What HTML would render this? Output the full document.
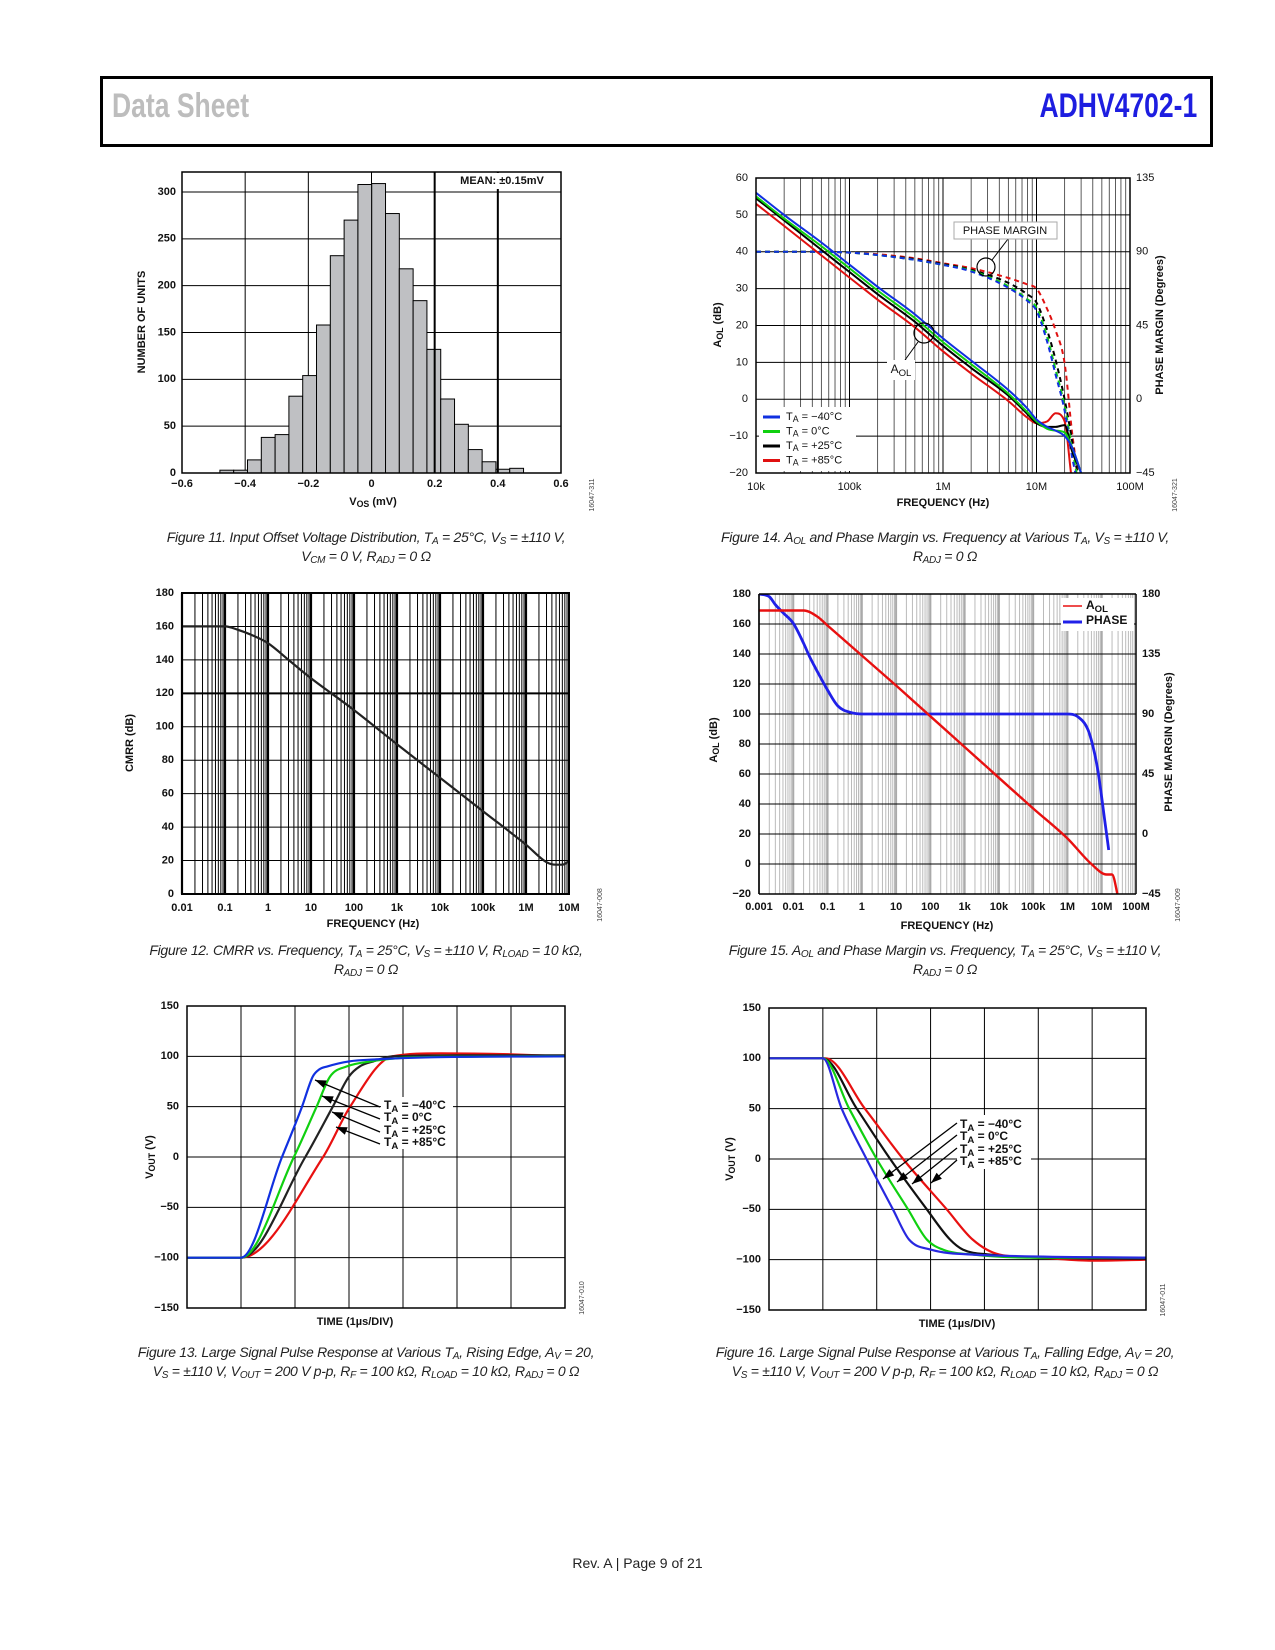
<!DOCTYPE html>
<html><head><meta charset="utf-8">
<style>
html,body{margin:0;padding:0;background:#fff;}
#page{position:relative;width:1275px;height:1650px;overflow:hidden;background:#fff;font-family:"Liberation Sans",sans-serif;}
.hdr{position:absolute;left:100px;top:76px;width:1107px;height:65px;border:3px solid #000;border-right-width:3px;}
.t1{position:absolute;left:112px;top:87px;font:bold 34px "Liberation Sans Narrow","Liberation Sans",sans-serif;color:#bdbdbd;transform:scaleX(0.78);transform-origin:left;}
.t2{position:absolute;right:78px;top:87px;font:bold 34px "Liberation Sans Narrow","Liberation Sans",sans-serif;color:#1d1de0;transform:scaleX(0.78);transform-origin:right;}
.cap{position:absolute;width:560px;text-align:center;font:italic 14px "Liberation Sans",sans-serif;letter-spacing:-0.3px;line-height:19px;color:#222;}
.cap sub{font-size:10px;vertical-align:-2px;line-height:0;}
.foot{position:absolute;left:0;width:1275px;top:1555px;text-align:center;font:14px "Liberation Sans",sans-serif;color:#222;}
svg{position:absolute;left:0;top:0;}
</style></head><body>
<div id="page">
<div class="hdr"></div>
<div class="t1">Data Sheet</div>
<div class="t2">ADHV4702-1</div>

<div class="cap" style="left:86px;top:528px">Figure 11. Input Offset Voltage Distribution, T<sub>A</sub> = 25°C, V<sub>S</sub> = ±110 V,<br>V<sub>CM</sub> = 0 V, R<sub>ADJ</sub> = 0 Ω</div>
<div class="cap" style="left:665px;top:528px">Figure 14. A<sub>OL</sub> and Phase Margin vs. Frequency at Various T<sub>A</sub>, V<sub>S</sub> = ±110 V,<br>R<sub>ADJ</sub> = 0 Ω</div>
<div class="cap" style="left:86px;top:941px">Figure 12. CMRR vs. Frequency, T<sub>A</sub> = 25°C, V<sub>S</sub> = ±110 V, R<sub>LOAD</sub> = 10 kΩ,<br>R<sub>ADJ</sub> = 0 Ω</div>
<div class="cap" style="left:665px;top:941px">Figure 15. A<sub>OL</sub> and Phase Margin vs. Frequency, T<sub>A</sub> = 25°C, V<sub>S</sub> = ±110 V,<br>R<sub>ADJ</sub> = 0 Ω</div>
<div class="cap" style="left:56px;top:1343px;width:620px">Figure 13. Large Signal Pulse Response at Various T<sub>A</sub>, Rising Edge, A<sub>V</sub> = 20,<br>V<sub>S</sub> = ±110 V, V<sub>OUT</sub> = 200 V p-p, R<sub>F</sub> = 100 kΩ, R<sub>LOAD</sub> = 10 kΩ, R<sub>ADJ</sub> = 0 Ω</div>
<div class="cap" style="left:635px;top:1343px;width:620px">Figure 16. Large Signal Pulse Response at Various T<sub>A</sub>, Falling Edge, A<sub>V</sub> = 20,<br>V<sub>S</sub> = ±110 V, V<sub>OUT</sub> = 200 V p-p, R<sub>F</sub> = 100 kΩ, R<sub>LOAD</sub> = 10 kΩ, R<sub>ADJ</sub> = 0 Ω</div>
<div class="foot">Rev. A | Page 9 of 21</div>

<svg id="sv" width="1275" height="1650" viewBox="0 0 1275 1650"></svg>
</div>
<script>
// ---- Figure 11 data ----
const histCounts = [3,3,14,38,41,82,104,158,232,270,308,309,277,218,184,132,79,52,25,12,4,5];
const histBinStart = -0.48;
const histBinWidth = 0.0437;
const histXTicks = [-0.6,-0.4,-0.2,0,0.2,0.4,0.6];
const histXTickLabels = ["\u22120.6","\u22120.4","\u22120.2","0","0.2","0.4","0.6"];
const histYTicks = [0,50,100,150,200,250,300];

// ---- Figure 14 data ----
const f14 = [1e4,2e4,5e4,1e5,2e5,5e5,1e6,2e6,5e6,8e6,1e7,1.3e7,1.6e7,2e7,2.4e7,3e7];
const aolM40 = [56,50,42.5,36.5,30.5,23,16.5,10.5,2.5,-2.5,-5.5,-7.5,-8.5,-10,-13,-20];
const aol0 = [55,49,41.5,35.5,29.5,22,15.5,9.5,1.5,-3.5,-6,-8,-8.5,-9,-13,-20];
const aol25 = [54.5,48.5,40.5,34.5,28.5,21,14.5,8.5,1,-4,-6.5,-7.5,-7.5,-7,-14,-20];
const aol85 = [53,47,39,33,27,19.5,13,7,-0.5,-5,-6.5,-6,-3.8,-6,-22,-30];
const pmM40 = [90,90,90,89.5,88,85,82,78,68,60,54,35,15,-7,-35,-60];
const pm0 = [90,90,90,89.5,88,85,82,78.5,69,61,56,38,18,-4,-30,-60];
const pm25 = [90,90,90,89.5,88,85.5,82.5,79,71,64,59,42,24,0,-25,-60];
const pm85 = [90,90,90,89.5,88.5,86,83,80,74,70,67.5,55,42,22,-20,-60];
const f14TickLabels = ["10k","100k","1M","10M","100M"];
const f14YTicks = [-20,-10,0,10,20,30,40,50,60];
const f14PTicks = [-45,0,45,90,135];

// ---- Figure 12 data ----
const f12 = [0.01,0.1,0.2,0.5,1,3,10,100,1e3,1e4,1e5,1e6,3e6,5e6,7e6,1e7];
const cmrr = [160,160,158,154,150,140,129,110,89.5,69.5,49.5,29.5,19,17.5,17.5,19.5];
const f12TickLabels = ["0.01","0.1","1","10","100","1k","10k","100k","1M","10M"];
const f12YTicks = [0,20,40,60,80,100,120,140,160,180];

// ---- Figure 15 data ----
const f15Aol = [0.001,0.02,0.05,0.1,1,10,100,1e3,1e4,1e5,1e6,5e6,1.4e7,2e7,3e7];
const aol15 = [169,169,165,159,139,119,98.5,78,57.5,37,17,0,-7,-7,-22];
const f15Ph = [0.001,0.002,0.003,0.005,0.01,0.02,0.03,0.05,0.1,0.2,0.5,1,1e6,2e6,4e6,6e6,8e6,1.2e7,1.6e7];
const ph15 = [180,178,172,166,158,143,133,122,108,96,91,90,90,88,78,62,45,12,-12];
const f15TickLabels = ["0.001","0.01","0.1","1","10","100","1k","10k","100k","1M","10M","100M"];
const f15YTicks = [-20,0,20,40,60,80,100,120,140,160,180];
const f15PTicks = [-45,0,45,90,135,180];

// ---- Figure 13 data ----
const tRiseM40 = [0,1,1.76,2.13,2.33,2.45,2.6,3.0,3.5,4.5,7];
const vRiseM40 = [-100,-100,0,50,80,87,90,95,97,99,100];
const tRise0 = [0,1,1.98,2.4,2.65,2.96,3.4,4.2,7];
const vRise0 = [-100,-100,0,50,80,90,95,99,100];
const tRise25 = [0,1,2.19,2.7,3.0,3.2,3.45,3.8,5,7];
const vRise25 = [-100,-100,0,50,80,90,95,100,101,101];
const tRise85 = [0,1,2.52,3.02,3.8,4.7,6,7];
const vRise85 = [-100,-100,0,50,100,103,102,100];
// ---- Figure 16 data ----
const tFallM40 = [0,1,1.35,1.81,2.3,2.6,3.0,3.8,7];
const vFallM40 = [100,100,50,0,-50,-80,-90,-95,-98];
const tFall0 = [0,1,1.49,2.0,2.58,2.93,3.23,3.8,5,7];
const vFall0 = [100,100,50,0,-50,-80,-90,-95,-98,-98];
const tFall25 = [0,1,1.63,2.25,2.93,3.36,3.6,4.1,5,7];
const vFall25 = [100,100,50,0,-50,-80,-90,-95,-98,-99];
const tFall85 = [0,1.05,1.78,2.49,3.3,3.78,4.28,5,6,7];
const vFall85 = [100,100,50,0,-50,-80,-95,-98,-101,-100];
const vTicks = [-150,-100,-50,0,50,100,150];
const vTickLabels = ["\u2212150","\u2212100","\u221250","0","50","100","150"];

const NS = "http://www.w3.org/2000/svg";
const sv = document.getElementById('sv');
function mk(tag, attrs, name, parent) {
  const el = document.createElementNS(NS, tag);
  for (const k in attrs) el.setAttribute(k, attrs[k]);
  
  
  (parent || sv).appendChild(el);
  return el;
}
function ln(x1,y1,x2,y2,c,w,name,p){return mk('line',{x1:x1,y1:y1,x2:x2,y2:y2,stroke:c,'stroke-width':w},name,p);}
function tx(x,y,s,opt,name,p){
  opt=opt||{};
  const el=mk('text',{x:x,y:y,'font-family':'Liberation Sans, sans-serif','font-size':opt.fs||11,'font-weight':opt.fw||'bold','text-anchor':opt.a||'middle',fill:opt.c||'#111','dominant-baseline':'middle'},name,p);
  if(opt.rot) el.setAttribute('transform','rotate('+opt.rot+' '+x+' '+y+')');
  el.textContent=s; return el;
}
function txSub(x,y,main,sub,rest,opt,name){
  opt=opt||{};
  const el=mk('text',{x:x,y:y,'font-family':'Liberation Sans, sans-serif','font-size':opt.fs||11,'font-weight':opt.fw||'bold','text-anchor':opt.a||'middle',fill:'#111','dominant-baseline':'middle'},name);
  if(opt.rot) el.setAttribute('transform','rotate('+opt.rot+' '+x+' '+y+')');
  const a=document.createElementNS(NS,'tspan'); a.textContent=main; el.appendChild(a);
  const b=document.createElementNS(NS,'tspan'); b.setAttribute('dy','3'); b.setAttribute('font-size',(opt.fs||11)*0.8); b.textContent=sub; el.appendChild(b);
  const c=document.createElementNS(NS,'tspan'); c.setAttribute('dy','-3'); c.textContent=rest; el.appendChild(c);
  return el;
}
function lin(d0,d1,p0,p1){return v=>p0+(v-d0)*(p1-p0)/(d1-d0);}
function logS(f0,f1,p0,p1){const a=Math.log10(f0),b=Math.log10(f1);return v=>p0+(Math.log10(v)-a)*(p1-p0)/(b-a);}
let clipId=0;
function clip(x0,y0,x1,y1){const id='c'+(clipId++);const cp=mk('clipPath',{id:id},'clip-region');mk('rect',{x:x0,y:y0,width:x1-x0,height:y1-y0},'clip-rect',cp);return 'url(#'+id+')';}
// monotone cubic (Fritsch-Carlson) in pixel space
function smoothD(px,py){
  const n=px.length; if(n<3){let d='';for(let i=0;i<n;i++)d+=(i?'L':'M')+px[i]+' '+py[i];return d;}
  const dx=[],m=[],t=new Array(n);
  for(let i=0;i<n-1;i++){dx[i]=px[i+1]-px[i];m[i]=(py[i+1]-py[i])/dx[i];}
  t[0]=m[0];t[n-1]=m[n-2];
  for(let i=1;i<n-1;i++){t[i]=(m[i-1]*m[i]<=0)?0:(m[i-1]+m[i])/2;}
  for(let i=0;i<n-1;i++){ if(m[i]===0){t[i]=0;t[i+1]=0;continue;}
    const a=t[i]/m[i],b=t[i+1]/m[i],s=a*a+b*b; if(s>9){const k=3/Math.sqrt(s);t[i]=k*a*m[i];t[i+1]=k*b*m[i];}}
  let d='M'+px[0].toFixed(1)+' '+py[0].toFixed(1);
  for(let i=0;i<n-1;i++){const h=dx[i]/3;
    d+='C'+(px[i]+h).toFixed(1)+' '+(py[i]+t[i]*h).toFixed(1)+' '+(px[i+1]-h).toFixed(1)+' '+(py[i+1]-t[i+1]*h).toFixed(1)+' '+px[i+1].toFixed(1)+' '+py[i+1].toFixed(1);}
  return d;
}
function path(xs,ys,sx,sy,c,w,name,dash,cl){
  const d=smoothD(xs.map(sx),ys.map(sy));
  const a={d:d,fill:'none',stroke:c,'stroke-width':w,'stroke-linejoin':'round'};
  if(dash)a['stroke-dasharray']=dash; if(cl)a['clip-path']=cl;
  return mk('path',a,name);
}
function logGrid(f0,f1,x,y0,y1,minC,minW,majC,majW,name){
  for(let e=Math.round(Math.log10(f0));e<Math.round(Math.log10(f1));e++){
    for(let m=1;m<=9;m++){const v=m*Math.pow(10,e);ln(x(v),y0,x(v),y1,m==1?majC:minC,m==1?majW:minW,name);}
  }
}
function arrow(x1,y1,x2,y2,name){
  ln(x1,y1,x2,y2,'#000',1.3,name);
  const a=Math.atan2(y2-y1,x2-x1),L=11,W=4;
  const bx=x2-L*Math.cos(a),by=y2-L*Math.sin(a);
  mk('polygon',{points:x2+','+y2+' '+(bx-W*Math.sin(a))+','+(by+W*Math.cos(a))+' '+(bx+W*Math.sin(a))+','+(by-W*Math.cos(a)),fill:'#000'},name+'-head');
}
function code(x,y,s){tx(x,y,s,{fs:7,fw:'normal',rot:-90,c:'#444'},'figure-code');}

// ================= Figure 11 =================
(function(){
  const X0=182,X1=561,Y0=172,Y1=473;
  const sx=lin(-0.6,0.6,X0,X1), sy=lin(0,300,Y1,192);
  histYTicks.forEach(v=>{ if(v>0) ln(X0,sy(v),X1,sy(v),'#000',1,'hist-y-gridline'); tx(X0-6,sy(v),String(v),{a:'end'},'hist-y-tick-label');});
  histXTicks.forEach((v,i)=>{ if(i>0&&i<histXTicks.length-1&&v<0.1) ln(sx(v),Y0,sx(v),Y1,'#000',1,'hist-x-gridline'); tx(sx(v),Y1+11,histXTickLabels[i],{},'hist-x-tick-label');});
  histCounts.forEach((c,i)=>{
    const lo=histBinStart+i*histBinWidth;
    mk('rect',{x:sx(lo),y:sy(c),width:sx(lo+histBinWidth)-sx(lo),height:Y1-sy(c),fill:'#bfc0c3',stroke:'#000','stroke-width':1},'histogram-bar');
  });
  [0.2,0.4].forEach(v=>ln(sx(v),Y0,sx(v),Y1,'#000',2,'hist-x-gridline'));
  mk('rect',{x:X0,y:Y0,width:X1-X0,height:Y1-Y0,fill:'none',stroke:'#000','stroke-width':1.5},'hist-plot-frame');
  mk('rect',{x:446,y:173,width:113,height:16,fill:'#fff'},'mean-label-bg');
  tx(502,181,'MEAN: \u00b10.15mV',{},'mean-label');
  txSub(373,502,'V','OS',' (mV)',{},'hist-x-axis-title');
  tx(142,322,'NUMBER OF UNITS',{rot:-90},'hist-y-axis-title');
  code(592,495,'16047-311');
})();

// ================= Figure 14 =================
(function(){
  const X0=756,X1=1130,Y0=178,Y1=473;
  const sx=logS(1e4,1e8,X0,X1), sy=lin(-20,60,Y1,Y0), sp=lin(-45,135,Y1,Y0);
  logGrid(1e4,1e8,sx,Y0,Y1,'#333',0.8,'#000',1,'aol14-x-gridline');
  f14YTicks.forEach(v=>{ln(X0,sy(v),X1,sy(v),'#000',1,'aol14-y-gridline');tx(X0-8,sy(v),v<0?'\u2212'+(-v):String(v),{a:'end',fw:'normal'},'aol14-y-tick-label');});
  f14PTicks.forEach(v=>tx(X1+6,sp(v),v<0?'\u2212'+(-v):String(v),{a:'start',fw:'normal'},'phase14-y-tick-label'));
  f14TickLabels.forEach((s,i)=>tx(sx(1e4*Math.pow(10,i)),487,s,{fw:'normal'},'aol14-x-tick-label'));
  const cl=clip(X0,Y0,X1,Y1);
  path(f14,pm85,sx,sp,'#e01010',2,'phase-85c-line','5,4',cl);
  path(f14,pm25,sx,sp,'#000',2,'phase-25c-line','5,4',cl);
  path(f14,pm0,sx,sp,'#10d010',2,'phase-0c-line','5,4',cl);
  path(f14,pmM40,sx,sp,'#1030e0',2,'phase-m40c-line','5,4',cl);
  path(f14,aol85,sx,sy,'#e01010',2,'aol-85c-line',null,cl);
  path(f14,aol25,sx,sy,'#000',2,'aol-25c-line',null,cl);
  path(f14,aol0,sx,sy,'#10d010',2,'aol-0c-line',null,cl);
  path(f14,aolM40,sx,sy,'#1030e0',2,'aol-m40c-line',null,cl);
  mk('rect',{x:X0,y:Y0,width:X1-X0,height:Y1-Y0,fill:'none',stroke:'#000','stroke-width':1.5},'aol14-plot-frame');
  mk('circle',{cx:986,cy:267,r:9,fill:'none',stroke:'#000','stroke-width':1.2},'phase-margin-circle');
  ln(992,260,1008,239,'#000',1,'phase-margin-leader');
  mk('rect',{x:954,y:222,width:103,height:17,fill:'#fff',stroke:'#aaa','stroke-width':1},'phase-margin-label-box');
  tx(1005,231,'PHASE MARGIN',{fw:'normal',fs:11},'phase-margin-label');
  mk('circle',{cx:924,cy:333,r:10,fill:'none',stroke:'#000','stroke-width':1.2},'aol-circle');
  ln(918,342,905,360,'#000',1,'aol-leader');
  mk('rect',{x:887,y:360,width:28,height:20,fill:'#fff'},'aol-label-bg');
  txSub(901,370,'A','OL','',{fw:'normal',fs:12},'aol-annotation');
  mk('rect',{x:759,y:407,width:97,height:64,fill:'#fff'},'legend-box-14');
  const leg=[['#1030e0','\u221240\u00b0C'],['#10d010','0\u00b0C'],['#000','+25\u00b0C'],['#e01010','+85\u00b0C']];
  leg.forEach((e,i)=>{const y=417+i*14.5;ln(763,y,780,y,e[0],3,'legend14-swatch');txSub(786,y,'T','A',' = '+e[1],{a:'start',fw:'normal',fs:11},'legend14-entry');});
  tx(943,503,'FREQUENCY (Hz)',{},'aol14-x-axis-title');
  txSub(718,325,'A','OL',' (dB)',{rot:-90},'aol14-y-axis-title');
  tx(1160,325,'PHASE MARGIN (Degrees)',{rot:-90},'phase14-y-axis-title');
  code(1175,495,'16047-321');
})();

// ================= Figure 12 =================
(function(){
  const X0=182,X1=569,Y0=593,Y1=894;
  const sx=logS(0.01,1e7,X0,X1), sy=lin(0,180,Y1,Y0);
  logGrid(0.01,1e7,sx,Y0,Y1,'#000',1,'#000',2.2,'cmrr-x-gridline');
  f12YTicks.forEach(v=>{ln(X0,sy(v),X1,sy(v),'#000',v==120?2:1,'cmrr-y-gridline');tx(X0-8,sy(v),String(v),{a:'end'},'cmrr-y-tick-label');});
  f12TickLabels.forEach((s,i)=>tx(sx(0.01*Math.pow(10,i)),908,s,{},'cmrr-x-tick-label'));
  path(f12,cmrr,sx,sy,'#222',2.2,'cmrr-line');
  mk('rect',{x:X0,y:Y0,width:X1-X0,height:Y1-Y0,fill:'none',stroke:'#000','stroke-width':2},'cmrr-plot-frame');
  tx(373,924,'FREQUENCY (Hz)',{},'cmrr-x-axis-title');
  tx(130,743,'CMRR (dB)',{rot:-90},'cmrr-y-axis-title');
  code(600,905,'16047-008');
})();

// ================= Figure 15 =================
(function(){
  const X0=759,X1=1136,Y0=594,Y1=894;
  const sx=logS(0.001,1e8,X0,X1), sy=lin(-20,180,Y1,Y0), sp=lin(-45,180,Y1,Y0);
  logGrid(0.001,1e8,sx,Y0,Y1,'#bbb',1,'#aaa',2,'aol15-x-gridline');
  f15YTicks.forEach(v=>{ln(X0,sy(v),X1,sy(v),'#000',1,'aol15-y-gridline');tx(X0-8,sy(v),v<0?'\u2212'+(-v):String(v),{a:'end'},'aol15-y-tick-label');});
  f15PTicks.forEach(v=>tx(X1+6,sp(v),v<0?'\u2212'+(-v):String(v),{a:'start'},'phase15-y-tick-label'));
  f15TickLabels.forEach((s,i)=>tx(sx(0.001*Math.pow(10,i)),907,s,{},'aol15-x-tick-label'));
  const cl=clip(X0,Y0,X1,Y1);
  path(f15Ph,ph15,sx,sp,'#2020e8',2.8,'phase15-line',null,cl);
  path(f15Aol,aol15,sx,sy,'#e81010',2.4,'aol15-line',null,cl);
  ln(X0,Y0,X1,Y0,'#000',1.5,'aol15-frame-top');ln(X0,Y1,X1,Y1,'#000',1.5,'aol15-frame-bottom');
  ln(X0,Y0,X0,Y1,'#000',1.5,'aol15-frame-left');ln(X1,Y0,X1,Y1,'#000',1.5,'aol15-frame-right');
  mk('rect',{x:1061,y:598,width:73,height:33,fill:'#fff'},'legend-box-15');
  ln(1063,606,1082,606,'#e81010',1.5,'legend15-aol-swatch');
  txSub(1086,606,'A','OL','',{a:'start',fs:12},'legend15-aol-entry');
  ln(1063,622,1082,622,'#2020e8',3,'legend15-phase-swatch');
  tx(1086,621,'PHASE',{a:'start',fs:12},'legend15-phase-entry');
  tx(947,926,'FREQUENCY (Hz)',{},'aol15-x-axis-title');
  txSub(714,740,'A','OL',' (dB)',{rot:-90},'aol15-y-axis-title');
  tx(1169,742,'PHASE MARGIN (Degrees)',{rot:-90},'phase15-y-axis-title');
  code(1178,905,'16047-009');
})();

// ================= Figures 13 & 16 =================
function pulse(X0,X1,Y0,Y1,series,ann,codeX,codeS,pfx,titleX,ylabX){
  const sx=lin(0,7,X0,X1), sy=lin(-150,150,Y1,Y0);
  for(let i=1;i<7;i++) ln(sx(i),Y0,sx(i),Y1,'#000',1,pfx+'-x-gridline');
  vTicks.forEach((v,i)=>{ln(X0,sy(v),X1,sy(v),'#000',1,pfx+'-y-gridline');tx(X0-8,sy(v),vTickLabels[i],{a:'end'},pfx+'-y-tick-label');});
  const cl=clip(X0,Y0,X1,Y1);
  series.forEach(s=>path(s[0],s[1],sx,sy,s[2],2.2,s[3],null,cl));
  mk('rect',{x:X0,y:Y0,width:X1-X0,height:Y1-Y0,fill:'none',stroke:'#000','stroke-width':1.5},pfx+'-plot-frame');
  ann();
  tx(titleX,(Y1+14),'TIME (1\u00b5s/DIV)',{},pfx+'-x-axis-title');
  txSub(ylabX,(Y0+Y1)/2,'V','OUT',' (V)',{rot:-90},pfx+'-y-axis-title');
  code(codeX,Y1-10,codeS);
}
pulse(187,565,1006,1308,[
  [tRise85,vRise85,'#e81010','rise-85c-line'],[tRise25,vRise25,'#222','rise-25c-line'],
  [tRise0,vRise0,'#10d010','rise-0c-line'],[tRiseM40,vRiseM40,'#1030e0','rise-m40c-line']],
  function(){
    mk('rect',{x:381,y:1097,width:72,height:52,fill:'#fff'},'rise-annotation-bg');
    [['\u221240\u00b0C',1106],['0\u00b0C',1118],['+25\u00b0C',1131],['+85\u00b0C',1143]].forEach(e=>txSub(384,e[1],'T','A',' = '+e[0],{a:'start',fs:12},'rise-legend-label'));
    arrow(380,1107,315,1080,'rise-arrow');arrow(380,1119,322,1096,'rise-arrow');
    arrow(380,1132,332,1112,'rise-arrow');arrow(380,1144,336,1127,'rise-arrow');
  },582,'16047-010','rise',355,150);
pulse(769,1146,1008,1310,[
  [tFall85,vFall85,'#e81010','fall-85c-line'],[tFall25,vFall25,'#111','fall-25c-line'],
  [tFall0,vFall0,'#10d010','fall-0c-line'],[tFallM40,vFallM40,'#2828e0','fall-m40c-line']],
  function(){
    mk('rect',{x:957,y:1115,width:74,height:54,fill:'#fff'},'fall-annotation-bg');
    [['\u221240\u00b0C',1125],['0\u00b0C',1137],['+25\u00b0C',1150],['+85\u00b0C',1162]].forEach(e=>txSub(960,e[1],'T','A',' = '+e[0],{a:'start',fs:12},'fall-legend-label'));
    arrow(957,1123,883,1179,'fall-arrow');arrow(957,1135,897,1182,'fall-arrow');
    arrow(957,1148,912,1184,'fall-arrow');arrow(957,1160,931,1183,'fall-arrow');
  },1163,'16047-011','fall',957,730);
</script>
</body></html>
